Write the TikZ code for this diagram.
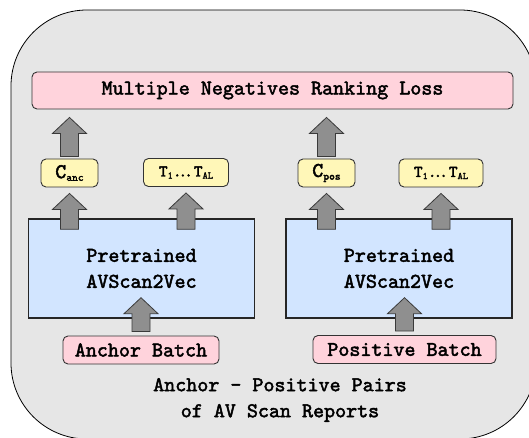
\documentclass[tikz,border=0pt]{standalone}
\usepackage{fontspec}
\setmonofont{lmmono10-regular.otf}[ItalicFont=lmmono10-italic.otf, AutoFakeBold=2.2]
\usetikzlibrary{calc}

\definecolor{outerbg}{HTML}{E6E6E6}
\definecolor{losspink}{HTML}{FFD3DC}
\definecolor{tokyellow}{HTML}{FFF7B8}
\definecolor{encblue}{HTML}{D2E5FF}
\definecolor{arrowfill}{HTML}{8F8F8F}
\definecolor{arrowline}{HTML}{3A3A3A}

% small lowered text for the subscripts
\newcommand{\sub}[2][11]{\raisebox{-0.3ex}{\fontsize{#1}{#1}\selectfont #2}}
% the token list T_1 ... T_AL
\newcommand{\toklist}{\fontsize{16.5}{16.5}\selectfont T\sub[10]{1}.\kern-3pt.\kern-3pt.\kern1pt T\sub[10]{\itshape AL}}
% grey block arrow pointing up from #1 to #2
\newcommand{\blockup}[2]{%
  \path let \p1=(#1), \p2=(#2) in
    [draw=arrowline, fill=arrowfill, line width=0.8pt]
    ({\x1-9pt},\y1) -- ({\x1-9pt},{\y2-16pt}) -- ({\x1-17pt},{\y2-16pt})
    -- (\x1,\y2) -- ({\x1+17pt},{\y2-16pt}) -- ({\x1+9pt},{\y2-16pt})
    -- ({\x1+9pt},\y1) -- cycle;}

\begin{document}
\begin{tikzpicture}[x=1pt,y=-1pt,
    every node/.style={font=\fontsize{21}{26}\selectfont\ttfamily\bfseries},
    pinkbox/.style={draw=black!80, fill=losspink, rounded corners=5pt, line width=0.9pt, inner sep=0pt},
    tokbox/.style={draw=black!80, fill=tokyellow, rounded corners=5pt, line width=0.9pt, inner sep=0pt,
      minimum height=28pt},
    encbox/.style={draw=black!85, fill=encblue, line width=1.4pt, inner sep=0pt,
      minimum width=226pt, minimum height=99pt, align=center}]
  \useasboundingbox (0,0) rectangle (529,438);
  \draw[fill=outerbg, line width=0.8pt, rounded corners=76pt] (11,10) rectangle (536,439);

  \node[pinkbox, minimum width=481pt, minimum height=37pt] (loss) at (272.5,90.5) {Multiple Negatives Ranking Loss};

  \node[tokbox, minimum width=57pt] (canc) at (69.5,173) {C\sub{anc}};
  \node[tokbox, minimum width=85pt] (tokl) at (186,172.5) {\toklist};
  \node[tokbox, minimum width=57pt] (cpos) at (326.5,173) {C\sub{pos}};
  \node[tokbox, minimum width=84pt] (tokr) at (441,173) {\toklist};

  \node[encbox] (encl) at (141.5,268.5) {Pretrained\\AVScan2Vec};
  \node[encbox] (encr) at (399,268.5) {Pretrained\\AVScan2Vec};

  \node[pinkbox, minimum width=156pt, minimum height=28pt] (anchor) at (141,350) {Anchor Batch};
  \node[pinkbox, minimum width=183pt, minimum height=28pt] (positive) at (404.5,349.5) {Positive Batch};

  \node[align=center] (pairs) at (280,400) {Anchor - Positive Pairs\\of AV Scan Reports};

  \blockup{$(canc.north)+(0,-2)$}{$(canc.north |- loss.south)+(0,8)$}
  \blockup{$(cpos.north)+(0,-2)$}{$(cpos.north |- loss.south)+(0,8)$}
  \blockup{$(canc.south |- encl.north)+(0,11)$}{$(canc.south)+(0,6)$}
  \blockup{$(tokl.south |- encl.north)+(0,11)$}{$(tokl.south)+(0,6)$}
  \blockup{$(cpos.south |- encr.north)+(0,11)$}{$(cpos.south)+(0,6)$}
  \blockup{$(tokr.south |- encr.north)+(0,11)$}{$(tokr.south)+(0,6)$}
  \blockup{$(anchor.north)+(0,-4)$}{$(anchor.north |- encl.south)+(0,-21)$}
  \blockup{$(positive.north)+(0,-4)$}{$(positive.north |- encr.south)+(0,-21)$}
\end{tikzpicture}
\end{document}
